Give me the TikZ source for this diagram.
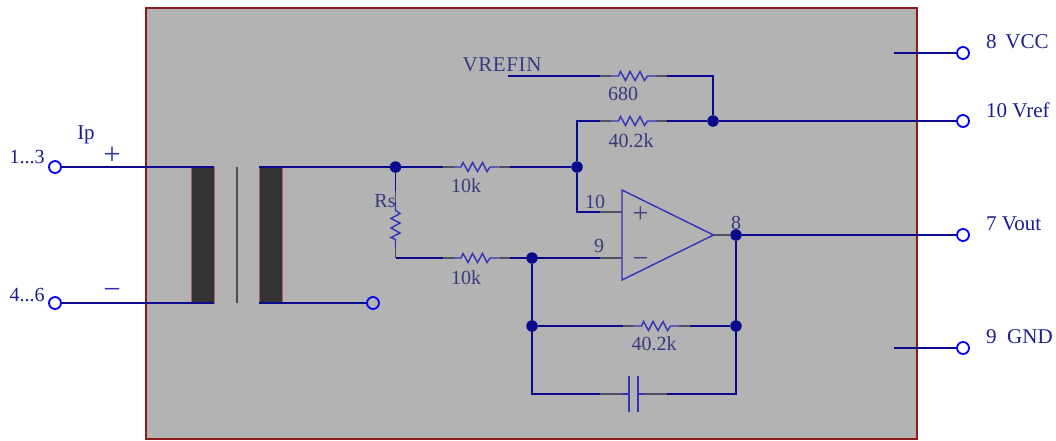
\documentclass[tikz,border=0pt]{standalone}
\usepackage{fontspec}
\usepackage{xcolor}
\setmainfont{Liberation Serif}
\definecolor{boxfill}{HTML}{B3B3B3}
\definecolor{boxline}{HTML}{8B1A1A}
\definecolor{wirecol}{HTML}{0A0A8C}
\definecolor{partcol}{HTML}{3333B8}
\definecolor{leadcol}{HTML}{505060}
\definecolor{textout}{HTML}{1C1C8E}
\definecolor{textin}{HTML}{39397F}
\definecolor{signcol}{HTML}{4A3A80}
\tikzset{
  wire/.style={draw=wirecol, line width=1.6pt},
  part/.style={draw=partcol, line width=1.4pt},
  lead/.style={draw=leadcol, line width=1.6pt},
  dot/.style={circle, fill=wirecol, inner sep=0pt, minimum size=11.5pt},
  pin/.style={circle, draw=blue, line width=1.8pt, inner sep=0pt, minimum size=12pt},
  core/.style={fill=black!80, draw=boxline!70, line width=0.8pt},
  outtext/.style={inner sep=0pt, text=textout, font=\fontsize{21}{24}\selectfont},
  intext/.style={inner sep=0pt, text=textin, font=\fontsize{20}{24}\selectfont},
}
% horizontal resistor: name, centre x, y
\newcommand{\hres}[3]{%
  \coordinate (#1w) at (#2-33.5,#3);
  \coordinate (#1e) at (#2+33.5,#3);
  \draw[lead] (#1w) -- ++(11,0);
  \draw[lead] (#1e) -- ++(-11,0);
  \draw[part] (#2-22.5,#3) -- (#2-15,#3) -- (#2-13,#3-4.5) -- (#2-8,#3+4.5) -- (#2-3.5,#3-4.5) -- (#2+1.5,#3+4.5) -- (#2+6.5,#3-4.5) -- (#2+11,#3+4.5) -- (#2+14,#3) -- (#2+22.5,#3);
}
% vertical resistor: name, x, centre y
\newcommand{\vres}[3]{%
  \coordinate (#1n) at (#2,#3-33.5);
  \coordinate (#1s) at (#2,#3+33.5);
  \draw[lead] (#1n) -- ++(0,11);
  \draw[lead] (#1s) -- ++(0,-11);
  \draw[part] (#2,#3-22.5) -- (#2,#3-14) -- (#2+4.5,#3-11) -- (#2-4.5,#3-6) -- (#2+4.5,#3-1.5) -- (#2-4.5,#3+3.5) -- (#2+4.5,#3+8.5) -- (#2-4.5,#3+13) -- (#2,#3+15) -- (#2,#3+22.5);
}
\begin{document}
\begin{tikzpicture}[x=1pt, y=-1pt]
\useasboundingbox (0,0) rectangle (1056,440);
\fill[boxfill] (146,8) rectangle (917,439);
\draw[boxline, line width=1.5pt] (146,8) rectangle (917,439);
% transformer
\draw[core] (191,167) rectangle (214,303);
\draw[core] (259,167) rectangle (282,303);
\draw[black!70, line width=1.2pt] (237,167) -- (237,303);
\coordinate (priA) at (214,167);
\coordinate (priB) at (214,303);
\coordinate (secA) at (259,167);
\coordinate (secB) at (259,303);
% pins
\node[pin] (pinA) at (55,167) {};
\node[pin] (pinB) at (55,303) {};
\node[pin] (pinS) at (373,303) {};
\node[pin] (pinVcc) at (963,53) {};
\node[pin] (pinRef) at (963,121) {};
\node[pin] (pinOut) at (963,235) {};
\node[pin] (pinGnd) at (963,348) {};
% junctions
\node[dot] (jRs) at (395.5,167) {};
\node[dot] (jPlus) at (577,167) {};
\node[dot] (jRef) at (713,121) {};
\node[dot] (jOut) at (736,235) {};
\node[dot] (jMinus) at (532,258) {};
\node[dot] (jFbL) at (532,326) {};
\node[dot] (jFbR) at (736,326) {};
% free ends and corners
\coordinate (vrefin) at (508,76);
\coordinate (vccEnd) at (894,53);
\coordinate (gndEnd) at (894,348);
\coordinate (topCorner) at (713,76);
\coordinate (refCorner) at (577,121);
\coordinate (plusCorner) at (577,212);
\coordinate (plusLead) at (600,212);
\coordinate (plusIn) at (622,212);
\coordinate (minusLead) at (600,258);
\coordinate (minusIn) at (622,258);
\coordinate (rsCorner) at (395.5,258);
\coordinate (capL) at (532,394);
\coordinate (capR) at (736,394);
\coordinate (capLeadL) at (600,394);
\coordinate (capLeadR) at (667,394);
\coordinate (capPartL) at (622,394);
\coordinate (capPartR) at (645,394);
\coordinate (plateL) at (629,394);
\coordinate (plateR) at (638,394);
\coordinate (ampTip) at (713.5,235);
% resistors
\hres{rTop}{633.5}{76}
\hres{rRef}{633.5}{121}
\hres{rIn}{476}{167}
\hres{rFb}{476}{258}
\hres{rLoop}{656.5}{326}
\vres{rS}{395.5}{224.5}
% wires
\draw[wire] (pinA) -- (priA);
\draw[wire] (pinB) -- (priB);
\draw[wire] (secA) -- (jRs);
\draw[wire] (secB) -- (pinS);
\draw[wire] (jRs) -- (rSn);
\draw[wire] (rSs) -- (rsCorner) -- (rFbw);
\draw[wire] (jRs) -- (rInw);
\draw[wire] (rIne) -- (jPlus);
\draw[wire] (jPlus) -- (refCorner) -- (rRefw);
\draw[wire] (rRefe) -- (jRef);
\draw[wire] (vrefin) -- (rTopw);
\draw[wire] (rTope) -- (topCorner) -- (jRef);
\draw[wire] (jRef) -- (pinRef);
\draw[wire] (jPlus) -- (plusCorner) -- (plusLead);
\draw[wire] (rFbe) -- (minusLead);
\draw[lead] (plusLead) -- (plusIn);
\draw[lead] (minusLead) -- (minusIn);
\draw[lead] (ampTip) -- (jOut);
\draw[wire] (jOut) -- (pinOut);
\draw[wire] (jOut) -- (capR) -- (capLeadR);
\draw[wire] (jMinus) -- (capL) -- (capLeadL);
\draw[wire] (jFbL) -- (rLoopw);
\draw[wire] (rLoope) -- (jFbR);
\draw[wire] (vccEnd) -- (pinVcc);
\draw[wire] (gndEnd) -- (pinGnd);
% capacitor
\draw[lead] (capLeadL) -- (capPartL);
\draw[lead] (capLeadR) -- (capPartR);
\draw[part] (capPartL) -- (plateL);
\draw[part] (capPartR) -- (plateR);
\draw[part] (629,376) -- (629,412);
\draw[part] (638,376) -- (638,412);
% amplifier
\draw[part] (622,190) -- (622,280) -- (ampTip) -- cycle;
% texts
\node[intext, text=signcol, font=\fontsize{28}{30}\selectfont] (ampPlus) at (640.5,215) {+};
\node[intext, text=signcol, font=\fontsize{28}{30}\selectfont] (ampMinus) at (640.5,262) {−};
\node[outtext, text=partcol, font=\fontsize{31}{33}\selectfont] (signPlus) at (112,156) {+};
\node[outtext, text=partcol, font=\fontsize{31}{33}\selectfont] (signMinus) at (112,294) {−};
\node[outtext, font=\fontsize{20}{24}\selectfont] (txtA) at (27,157) {1...3};
\node[outtext, font=\fontsize{20}{24}\selectfont] (txtB) at (27,295) {4...6};
\node[outtext] (txtIp) at (86,135) {Ip};
\node[intext] (txtRs) at (385,201) {Rs};
\node[intext, font=\fontsize{21}{24}\addfontfeature{LetterSpace=3}] (txtVrefin) at (502,65) {VREFIN};
\node[intext] (txtTop) at (623,94) {680};
\node[intext] (txtRef) at (631,141) {40.2k};
\node[intext] (txtIn) at (466,186) {10k};
\node[intext] (txtFb) at (466,278) {10k};
\node[intext] (txtLoop) at (654,344) {40.2k};
\node[intext] (txtTen) at (595,202) {10};
\node[intext] (txtNine) at (599,246) {9};
\node[intext] (txtEight) at (736,223) {8};
\node[outtext, anchor=west] (txtVcc) at (986,42) {8\ \,VCC};
\node[outtext, anchor=west] (txtRefOut) at (986,110) {10 Vref};
\node[outtext, anchor=west] (txtOut) at (986,224) {7 Vout};
\node[outtext, anchor=west] (txtGnd) at (986,337) {9\ \ GND};
\end{tikzpicture}
\end{document}
